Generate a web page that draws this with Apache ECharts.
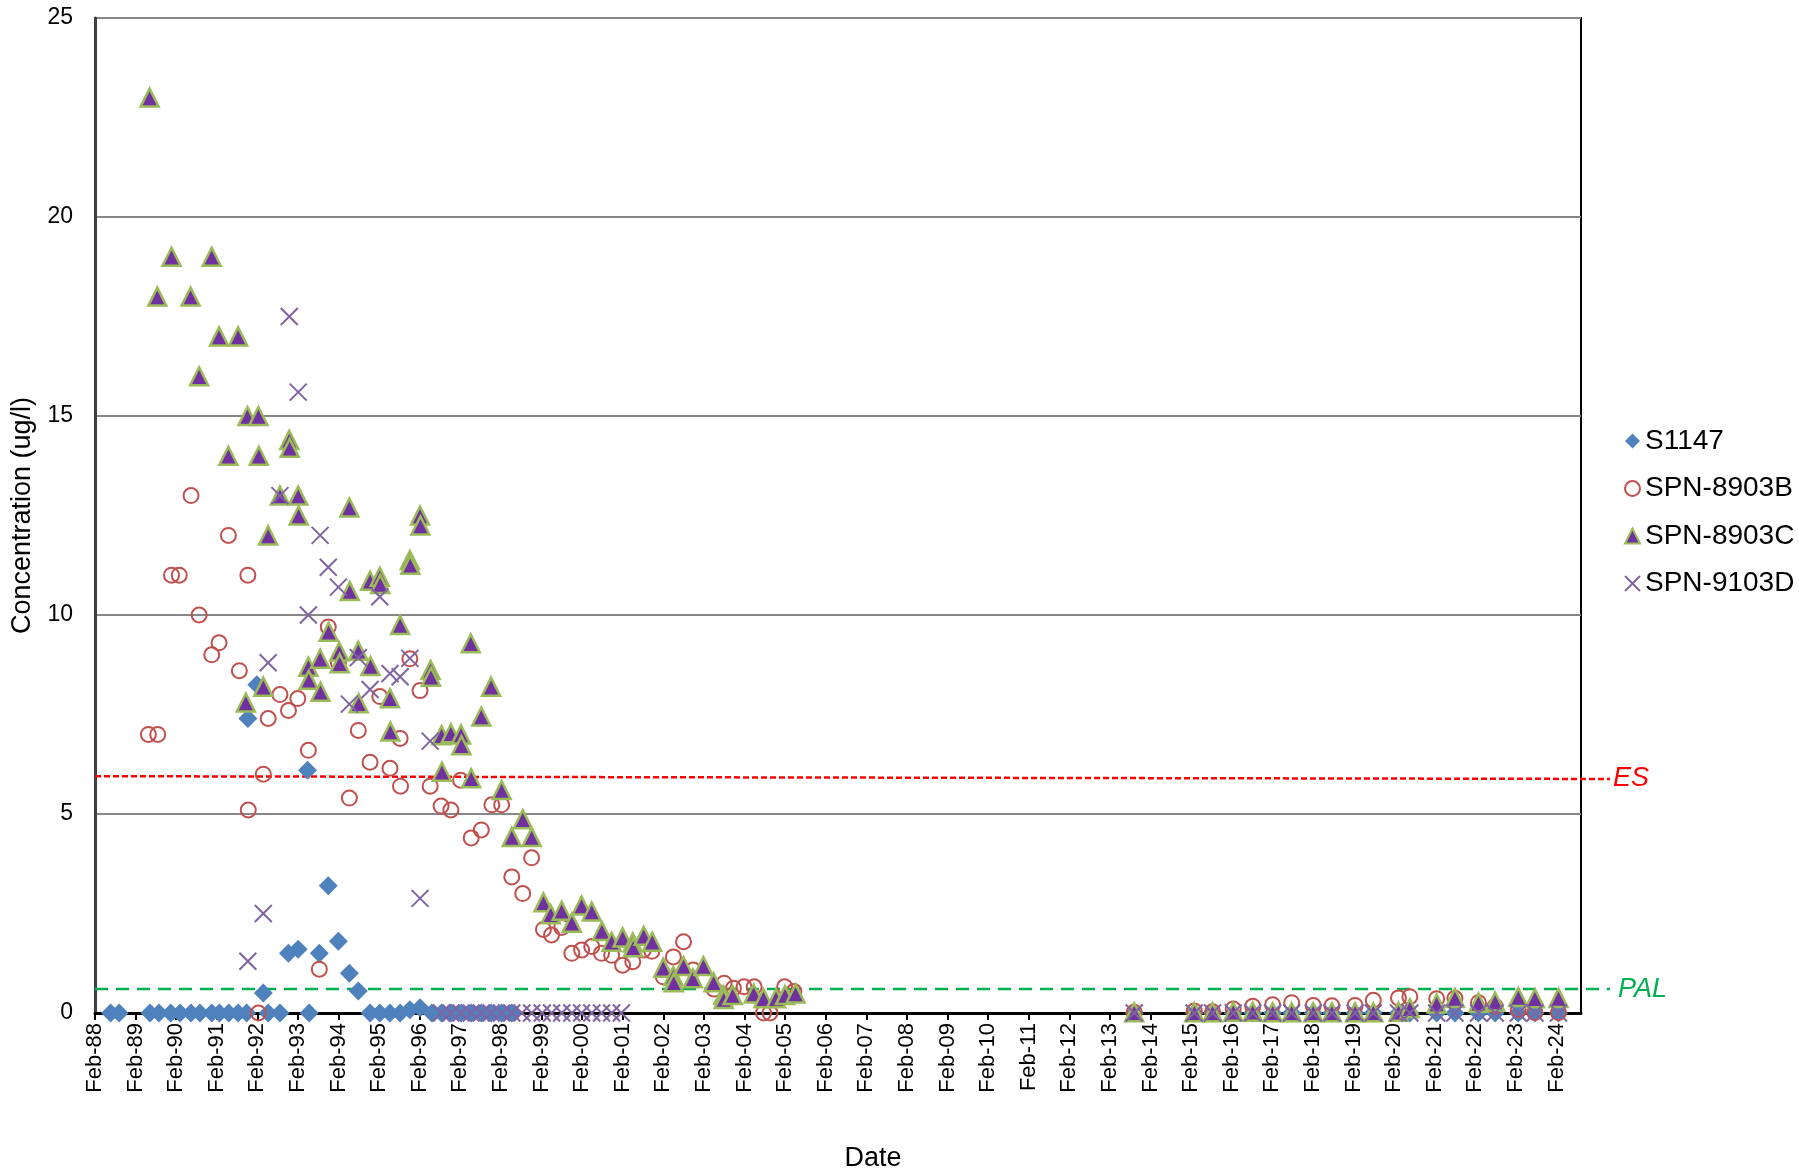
<!DOCTYPE html>
<html><head><meta charset="utf-8">
<script src="https://cdn.jsdelivr.net/npm/echarts@6/dist/echarts.min.js"></script>
<style>html,body{margin:0;padding:0;background:#fff}#c{width:1799px;height:1171px}</style>
</head><body><div id="c"></div>
<script>
// x axis: tick labels at every February
const xTickLabels = ['Feb-88','Feb-89','Feb-90','Feb-91','Feb-92','Feb-93','Feb-94','Feb-95','Feb-96','Feb-97','Feb-98','Feb-99','Feb-00','Feb-01','Feb-02','Feb-03','Feb-04','Feb-05','Feb-06','Feb-07','Feb-08','Feb-09','Feb-10','Feb-11','Feb-12','Feb-13','Feb-14','Feb-15','Feb-16','Feb-17','Feb-18','Feb-19','Feb-20','Feb-21','Feb-22','Feb-23','Feb-24'];
const yTicks = [0, 5, 10, 15, 20, 25];

// sampling dates (decimal years) of the recent monitoring rounds, shared by all wells
const lateDates = [2013.68, 2015.16, 2015.61, 2016.12, 2016.60, 2017.09, 2017.56, 2018.09, 2018.55, 2019.12, 2019.57, 2020.19, 2020.47, 2021.13, 2021.58, 2022.16, 2022.57, 2023.14, 2023.55, 2024.13];

// S1147
const s1147Dates = [1988.47, 1988.68, 1989.44, 1989.66, 1989.95, 1990.18, 1990.45, 1990.67, 1990.96, 1991.15, 1991.38, 1991.61, 1991.82, 1991.85, 1992.07, 1992.23, 1992.35, 1992.64, 1992.85, 1993.09, 1993.32, 1993.36, 1993.61, 1993.83, 1994.08, 1994.35, 1994.57, 1994.86, 1995.10, 1995.35, 1995.60, 1995.84, 1996.09, 1996.38, 1996.62, 1996.85, 1997.10, 1997.35, 1997.60, 1997.84, 1998.10, 1998.35];
const s1147Values = [0, 0, 0, 0, 0, 0, 0, 0, 0, 0, 0, 0, 0, 7.4, 8.25, 0.5, 0, 0, 1.5, 1.6, 6.1, 0, 1.5, 3.2, 1.8, 1.0, 0.55, 0, 0, 0, 0, 0.08, 0.13, 0, 0, 0, 0, 0, 0, 0, 0, 0];
const s1147Late = [0, 0, 0, 0, 0, 0, 0, 0, 0, 0, 0, 0, 0, 0, 0, 0, 0, 0, 0, 0];

// SPN-8903B
const b8903Dates = [1989.40, 1989.63, 1989.97, 1990.16, 1990.45, 1990.65, 1990.96, 1991.14, 1991.37, 1991.64, 1991.85, 1991.86, 1992.11, 1992.23, 1992.35, 1992.64, 1992.85, 1993.08, 1993.34, 1993.61, 1993.83, 1994.08, 1994.35, 1994.57, 1994.86, 1995.10, 1995.35, 1995.60, 1995.61, 1995.84, 1996.09, 1996.34, 1996.61, 1996.85, 1997.09, 1997.35, 1997.60, 1997.86, 1998.10, 1998.35, 1998.62, 1998.84, 1999.13, 1999.33, 1999.58, 1999.83, 2000.07, 2000.32, 2000.56, 2000.81, 2001.08, 2001.33, 2001.59, 2001.80, 2002.08, 2002.33, 2002.58, 2002.82, 2003.33, 2003.58, 2003.81, 2004.07, 2004.32, 2004.55, 2004.71, 2005.07, 2005.30];
const b8903Values = [7.0, 7.0, 11.0, 11.0, 13.0, 10.0, 9.0, 9.3, 12.0, 8.6, 11.0, 5.1, 0, 6.0, 7.4, 8.0, 7.6, 7.9, 6.6, 1.1, 9.7, 8.8, 5.4, 7.1, 6.3, 7.95, 6.15, 6.9, 5.7, 8.9, 8.1, 5.7, 5.2, 5.1, 5.85, 4.4, 4.6, 5.23, 5.23, 3.42, 3.0, 3.9, 2.1, 1.96, 2.15, 1.5, 1.58, 1.67, 1.5, 1.45, 1.2, 1.29, 1.58, 1.55, 0.91, 1.41, 1.79, 1.08, 0.6, 0.75, 0.62, 0.66, 0.66, 0, 0, 0.66, 0.54];
const b8903Late = [0.02, 0.05, 0.03, 0.1, 0.17, 0.21, 0.26, 0.19, 0.18, 0.19, 0.32, 0.38, 0.41, 0.36, 0.37, 0.26, 0.17, 0.09, 0.01, 0.01];

// SPN-8903C
const c8903Dates = [1989.43, 1989.62, 1989.97, 1990.44, 1990.65, 1990.96, 1991.14, 1991.37, 1991.61, 1991.80, 1991.84, 1992.11, 1992.12, 1992.23, 1992.35, 1992.64, 1992.87, 1992.88, 1993.09, 1993.10, 1993.34, 1993.35, 1993.63, 1993.64, 1993.84, 1994.10, 1994.11, 1994.35, 1994.36, 1994.57, 1994.58, 1994.86, 1994.87, 1995.10, 1995.11, 1995.35, 1995.36, 1995.60, 1995.84, 1995.85, 1996.09, 1996.10, 1996.35, 1996.36, 1996.62, 1996.63, 1996.85, 1997.10, 1997.11, 1997.34, 1997.35, 1997.60, 1997.84, 1998.10, 1998.35, 1998.62, 1998.84, 1999.13, 1999.31, 1999.58, 1999.83, 2000.07, 2000.32, 2000.57, 2000.81, 2001.08, 2001.33, 2001.34, 2001.60, 2001.81, 2002.08, 2002.33, 2002.34, 2002.58, 2002.81, 2003.07, 2003.32, 2003.56, 2003.57, 2003.79, 2004.31, 2004.55, 2004.86, 2005.08, 2005.34];
const c8903Values = [23, 18, 19, 18, 16, 19, 17, 14, 17, 7.8, 15, 15, 14, 8.2, 12, 13, 14.4, 14.2, 13, 12.5, 8.7, 8.37, 8.9, 8.07, 9.58, 9.08, 8.79, 12.7, 10.6, 9.1, 7.78, 10.86, 8.72, 10.96, 10.78, 7.91, 7.07, 9.75, 11.38, 11.26, 12.5, 12.25, 8.62, 8.45, 6.98, 6.06, 7.03, 7.0, 6.73, 9.29, 5.9, 7.45, 8.2, 5.6, 4.42, 4.87, 4.42, 2.78, 2.48, 2.57, 2.27, 2.7, 2.55, 2.06, 1.79, 1.9, 1.77, 1.65, 1.94, 1.79, 1.14, 0.93, 0.77, 1.18, 0.87, 1.18, 0.77, 0.45, 0.35, 0.45, 0.49, 0.37, 0.37, 0.45, 0.49];
const c8903Late = [0.02, 0.02, 0.02, 0.03, 0.03, 0.02, 0.02, 0.02, 0.02, 0.02, 0.02, 0.03, 0.12, 0.24, 0.38, 0.26, 0.29, 0.4, 0.37, 0.38];

// SPN-9103D
const d9103Dates = [1991.85, 1992.23, 1992.35, 1992.64, 1992.87, 1993.09, 1993.34, 1993.63, 1993.83, 1994.08, 1994.35, 1994.57, 1994.86, 1995.10, 1995.35, 1995.60, 1995.84, 1996.09, 1996.34, 1996.62, 1996.85, 1997.10, 1997.35, 1997.60, 1997.84, 1998.10, 1998.35, 1998.60, 1998.84, 1999.10, 1999.33, 1999.58, 1999.83, 2000.07, 2000.32, 2000.56, 2000.81, 2001.05];
const d9103Values = [1.3, 2.5, 8.8, 13.0, 17.5, 15.6, 10.0, 12.0, 11.2, 10.7, 7.76, 8.93, 8.13, 10.46, 8.53, 8.45, 8.91, 2.88, 6.83, 0, 0, 0, 0, 0, 0, 0, 0, 0, 0, 0, 0, 0, 0, 0, 0, 0, 0, 0];
const d9103Late = [0, 0, 0, 0, 0, 0, 0, 0, 0, 0, 0, 0, 0, 0, 0, 0, 0, 0, 0, 0];

// reference levels (value at left end, value at right end)
const esLevel = [5.95, 5.88];
const palLevel = [0.6, 0.6];

const axisStart = 1988.085;   // 1 Feb 1988
const axisEnd = 2024.685;     // right edge of plot
const lineEnd = 2025.395;     // reference lines run a little past the plot

function pts(dates, vals, lateVals) {
  const out = dates.map((d, i) => [d - axisStart, vals[i]]);
  lateDates.forEach((d, i) => out.push([d - axisStart, lateVals[i]]));
  return out;
}

const FONT = '"Liberation Sans", Arial, sans-serif';
const chart = echarts.init(document.getElementById('c'), null, {renderer: 'canvas'});
const tickPos = xTickLabels.map((_, i) => i);
const G = {left: 95, top: 18, bottom: 158};
const pxPerYear = (1799 - 218 - G.left) / (axisEnd - axisStart);
const rightExt = Math.round(1799 - G.left - pxPerYear * (lineEnd - axisStart));

chart.setOption({
  animation: false,
  backgroundColor: '#fff',
  textStyle: {fontFamily: FONT},
  grid: [
    {left: G.left, right: 218, top: G.top, bottom: G.bottom, outerBoundsMode: 'none', containLabel: false,
      show: true, borderColor: '#000', borderWidth: 2, backgroundColor: 'transparent'},
    {left: G.left, right: rightExt, top: G.top, bottom: G.bottom, outerBoundsMode: 'none', containLabel: false, show: false}
  ],
  legend: {
    orient: 'vertical', left: 1624, top: 427, padding: 0,
    itemWidth: 15, itemHeight: 15, itemGap: 19.5,
    textStyle: {fontSize: 28, color: '#000', fontFamily: FONT, lineHeight: 26},
    data: ['S1147', 'SPN-8903B', 'SPN-8903C', 'SPN-9103D']
  },
  xAxis: [{
    type: 'value', gridIndex: 0, min: 0, max: axisEnd - axisStart, interval: 1,
    name: 'Date', nameLocation: 'middle', nameGap: 132,
    nameTextStyle: {fontSize: 27, color: '#000', fontFamily: FONT, padding: [0, 0, 0, 70]},
    axisLine: {show: true, onZero: false, lineStyle: {color: '#000', width: 3}},
    axisTick: {show: true, length: 7, lineStyle: {color: '#000', width: 2}, customValues: tickPos},
    axisLabel: {rotate: 90, margin: 10, fontSize: 22, color: '#000', fontFamily: FONT, customValues: tickPos,
      formatter: v => { const i = Math.round(v); return Math.abs(v - i) < 1e-6 && xTickLabels[i] ? xTickLabels[i] : ''; }},
    splitLine: {show: false}
  }, {
    type: 'value', gridIndex: 1, min: 0, max: lineEnd - axisStart, show: false
  }],
  yAxis: [{
    type: 'value', gridIndex: 0, min: yTicks[0], max: yTicks[yTicks.length - 1], interval: 5,
    name: 'Concentration (ug/l)', nameLocation: 'middle', nameGap: 56, nameRotate: 90,
    nameTextStyle: {fontSize: 27, color: '#000', fontFamily: FONT},
    axisLine: {show: true, lineStyle: {color: '#404040', width: 3}},
    axisTick: {show: false},
    axisLabel: {margin: 22, fontSize: 23, color: '#000', fontFamily: FONT},
    splitLine: {show: true, lineStyle: {color: '#878787', width: 2}}
  }, {
    type: 'value', gridIndex: 1, min: yTicks[0], max: yTicks[yTicks.length - 1], show: false
  }],
  series: [
    {name: 'ES', type: 'line', xAxisIndex: 1, yAxisIndex: 1, clip: false, symbol: 'none', silent: true, z: 1,
      lineStyle: {color: '#FF0000', width: 2.5, type: [6, 3]},
      endLabel: {show: true, formatter: 'ES', color: '#FF0000', fontSize: 27, fontStyle: 'italic', fontFamily: FONT, distance: 3},
      data: [[0, esLevel[0]], [lineEnd - axisStart, esLevel[1]]]},
    {name: 'PAL', type: 'line', xAxisIndex: 1, yAxisIndex: 1, clip: false, symbol: 'none', silent: true, z: 1,
      lineStyle: {color: '#00B050', width: 2.5, type: [13, 8]},
      endLabel: {show: true, formatter: 'PAL', color: '#00B050', fontSize: 27, fontStyle: 'italic', fontFamily: FONT, distance: 8},
      data: [[0, palLevel[0]], [lineEnd - axisStart, palLevel[1]]]},
    {name: 'S1147', type: 'scatter', clip: false, symbol: 'diamond', symbolSize: 19,
      itemStyle: {color: '#4F81BD', opacity: 1}, emphasis: {disabled: true},
      data: pts(s1147Dates, s1147Values, s1147Late)},
    {name: 'SPN-8903B', type: 'scatter', clip: false, symbol: 'circle', symbolSize: 15,
      itemStyle: {color: 'rgba(255,255,255,0)', borderColor: '#C0504D', borderWidth: 2, opacity: 1}, emphasis: {disabled: true},
      data: pts(b8903Dates, b8903Values, b8903Late)},
    {name: 'SPN-8903C', type: 'scatter', clip: false, symbol: 'triangle', symbolSize: 18,
      itemStyle: {color: '#7030A0', borderColor: '#9BBB59', borderWidth: 2.5, opacity: 1}, emphasis: {disabled: true},
      data: pts(c8903Dates, c8903Values, c8903Late)},
    {name: 'SPN-9103D', type: 'scatter', clip: false, symbol: 'path://M0,0L10,10M10,0L0,10', symbolSize: 17,
      itemStyle: {color: '#8064A2', borderColor: '#8064A2', borderWidth: 2, opacity: 1}, emphasis: {disabled: true},
      data: pts(d9103Dates, d9103Values, d9103Late)}
  ]
});
</script>
</body></html>
